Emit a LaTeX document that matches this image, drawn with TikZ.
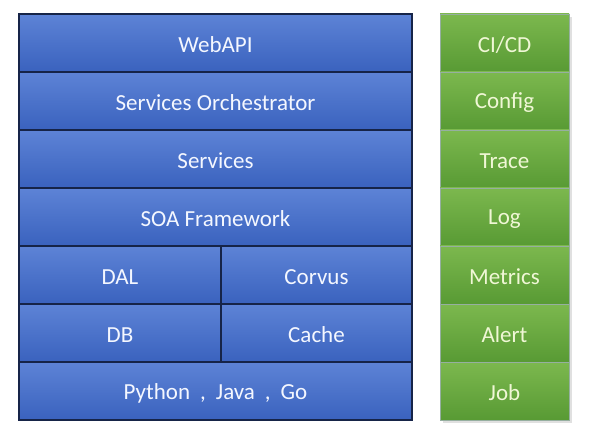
\documentclass[tikz,border=0pt]{standalone}
\usepackage{fontspec}
\setmainfont{Carlito}
\definecolor{bluetop}{RGB}{93,131,214}
\definecolor{bluebot}{RGB}{58,98,190}
\definecolor{blueline}{RGB}{22,36,72}
\definecolor{greentop}{RGB}{124,184,78}
\definecolor{greenbot}{RGB}{88,154,52}
\definecolor{greenline}{RGB}{150,175,160}
\definecolor{greentext}{RGB}{240,247,214}
\definecolor{bluetext}{RGB}{244,247,255}
\begin{document}
\begin{tikzpicture}[x=1pt,y=-1pt,
  bluebox/.style={draw=blueline,line width=1.2pt,top color=bluetop,bottom color=bluebot,
    text=bluetext,font=\fontsize{23}{27}\selectfont},
  greenbox/.style={draw=greenline,line width=0.6pt,top color=greentop,bottom color=greenbot,
    text=greentext,font=\fontsize{23}{27}\selectfont},
  lbl/.style={midway,yshift=-2pt}]
\useasboundingbox (0,0) rectangle (591,438);
\fill[black!12] (443,17) rectangle (572,423);
% left stack
\foreach \t/\a/\b [count=\i] in {WebAPI/14/72,Services Orchestrator/72/130,Services/130/188,SOA Framework/188/246}{
  \draw[bluebox] (19,\a) rectangle (412,\b) node[lbl] (L\i) {\t};
}
\draw[bluebox] (19,246) rectangle (221,304) node[lbl] (dal) {DAL};
\draw[bluebox] (221,246) rectangle (412,304) node[lbl] (corvus) {Corvus};
\draw[bluebox] (19,304) rectangle (221,362) node[lbl] (db) {DB};
\draw[bluebox] (221,304) rectangle (412,362) node[lbl] (cache) {Cache};
\draw[bluebox] (19,362) rectangle (412,420) node[lbl] (lang) {Python\hspace{10pt},\hspace{10pt}Java\hspace{10pt},\hspace{10pt}Go};
% right column
\foreach \t/\a/\b [count=\i] in {{CI/CD}/14/72,Config/72/130,Trace/130/188,Log/188/246,Metrics/246/304,Alert/304/362,Job/362/420}{
  \draw[greenbox] (440,\a) rectangle (569,\b) node[lbl] (R\i) {\t};
}
\end{tikzpicture}
\end{document}
